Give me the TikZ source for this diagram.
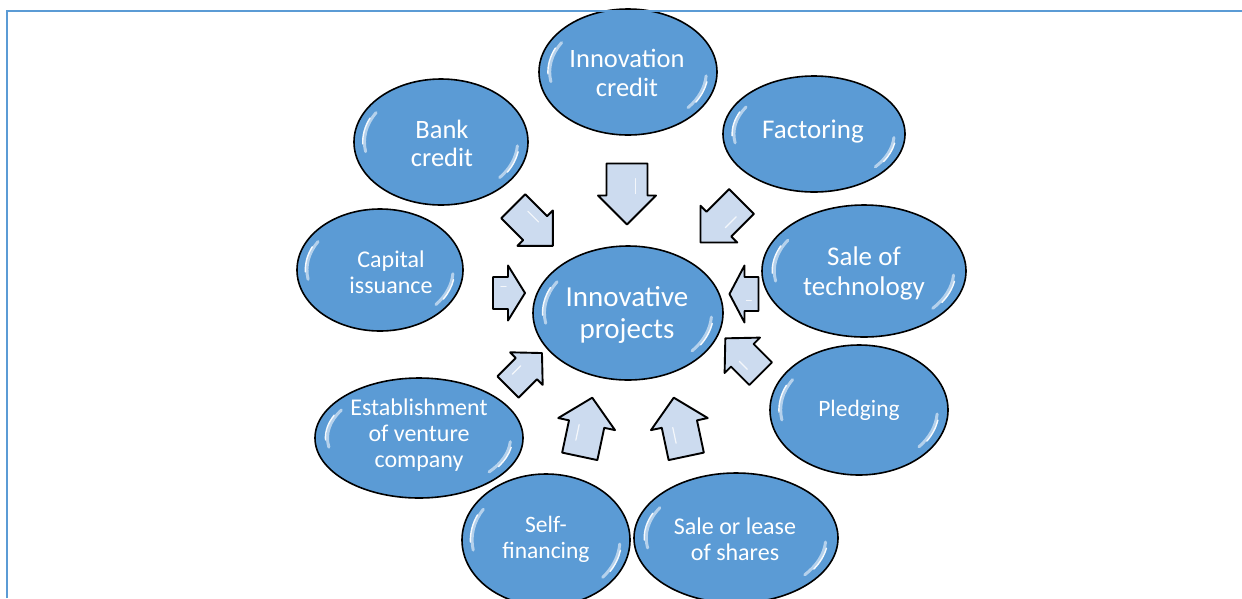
\documentclass[tikz,border=0pt]{standalone}
\usepackage{fontspec}
\setmainfont{Carlito}
\usetikzlibrary{shapes.geometric}
\definecolor{bubblefill}{HTML}{5B9BD5}
\definecolor{framecol}{HTML}{5B9BD5}
\definecolor{arrowfill}{HTML}{CCDBEF}

\tikzset{
  bubble/.style={ellipse, draw=black, line width=1.6pt, fill=bubblefill, inner sep=0pt},
  bubbletext/.style={text=white, align=center, inner sep=0pt},
  glosswide/.style={white, line width=3pt, line cap=round, opacity=0.55},
  glosscore/.style={white, line width=1.4pt, line cap=round, opacity=0.95},
  flowarrow/.style={draw=black, line width=1.9pt, fill=arrowfill, line join=round},
  % block arrow along local x: length, shaft width, head width, head length
  pics/blockarrow/.style n args={4}{code={
    \draw[flowarrow] (-#1/2,-#2/2) -- (#1/2-#4,-#2/2) -- (#1/2-#4,-#3/2)
      -- (#1/2,0) -- (#1/2-#4,#3/2) -- (#1/2-#4,#2/2) -- (-#1/2,#2/2) -- cycle;
    \draw[white, line width=1.2pt, line cap=round, opacity=0.8]
      (-#1/4,-#2/5) -- (#1/2-#4-2,-#2/5);
  }}
}

% ellipse with glossy edge highlights: name, x, y, rx, ry
\newcommand\bubbleshape[5]{%
  \node[bubble, minimum width=2*#4, minimum height=2*#5] (#1) at (#2,#3) {};
  \draw[glosswide] (#1.center) ++(-148:{0.88*#4} and {0.88*#5})
    arc[start angle=-148, end angle=-190, x radius=0.88*#4, y radius=0.88*#5];
  \draw[glosscore] (#1.center) ++(-155:{0.9*#4} and {0.9*#5})
    arc[start angle=-155, end angle=-182, x radius=0.9*#4, y radius=0.9*#5];
  \draw[glosswide] (#1.center) ++(4:{0.88*#4} and {0.88*#5})
    arc[start angle=4, end angle=40, x radius=0.88*#4, y radius=0.88*#5];
  \draw[glosscore] (#1.center) ++(10:{0.9*#4} and {0.9*#5})
    arc[start angle=10, end angle=32, x radius=0.9*#4, y radius=0.9*#5];
}

\begin{document}
\begin{tikzpicture}[x=1pt,y=-1pt]
\useasboundingbox (0,0) rectangle (1242,598);

% funding sources
\bubbleshape{innov}{628}{72}{89}{63}
\bubbleshape{bank}{441}{142}{87}{63}
\bubbleshape{fact}{814}{134}{91}{58}
\bubbleshape{tech}{864}{271}{102}{66}
\bubbleshape{capital}{380}{270}{83}{61}
\bubbleshape{pledge}{859}{410}{89}{65}
\bubbleshape{venture}{419}{438}{104}{60}
\bubbleshape{selff}{546}{540}{84}{66}
\bubbleshape{shares}{736}{538}{102}{65}
% the target
\bubbleshape{proj}{628}{313}{95}{67}

\node[bubbletext, font=\fontsize{26.5}{29}\selectfont] (innovtxt) at (627,73) {Innovation\\credit};
\node[bubbletext, font=\fontsize{26.5}{28}\selectfont] (banktxt) at (442,143) {Bank\\credit};
\node[bubbletext, font=\fontsize{27}{29}\selectfont] (facttxt) at (813,132) {Factoring};
\node[bubbletext, font=\fontsize{27}{30}\selectfont] (techtxt) at (864,273) {Sale of\\technology};
\node[bubbletext, font=\fontsize{24}{26}\selectfont] (capitaltxt) at (391,272) {Capital\\issuance};
\node[bubbletext, font=\fontsize{29}{32}\selectfont] (projtxt) at (627,315) {Innovative\\projects};
\node[bubbletext, font=\fontsize{23.5}{26}\selectfont] (pledgetxt) at (859,410) {Pledging};
\node[bubbletext, font=\fontsize{24}{26}\selectfont] (venturetxt) at (419,435) {Establishment\\of venture\\company};
\node[bubbletext, font=\fontsize{23.5}{26}\selectfont] (selfftxt) at (546,539) {Self-\\financing};
\node[bubbletext, font=\fontsize{24}{26}\selectfont] (sharestxt) at (735,539) {Sale or lease\\of shares};

% block arrows pointing at the target
\pic[rotate=-90] (arrinnov) at (627,194) {blockarrow={61}{41}{58}{29}};
\pic[rotate=-45] (arrbank) at (533,226) {blockarrow={56}{34}{50}{25}};
\pic[rotate=-135] (arrfact) at (721,222) {blockarrow={58}{35}{52}{26}};
\pic[rotate=0] (arrcapital) at (509,293) {blockarrow={32}{32}{55}{17}};
\pic[rotate=180] (arrtech) at (744,294) {blockarrow={29}{34}{57}{15}};
\pic[rotate=45] (arrventure) at (525,370) {blockarrow={48}{30}{46}{22}};
\pic[rotate=135] (arrpledge) at (743,356) {blockarrow={50}{32}{50}{24}};
\pic[rotate=78] (arrselff) at (586,427) {blockarrow={60}{36}{58}{27}};
\pic[rotate=102] (arrshares) at (680,427) {blockarrow={60}{36}{58}{27}};

% frame
\draw[framecol, line width=2.7pt] (7,598) -- (7,11) -- (1242,11);
\end{tikzpicture}
\end{document}
